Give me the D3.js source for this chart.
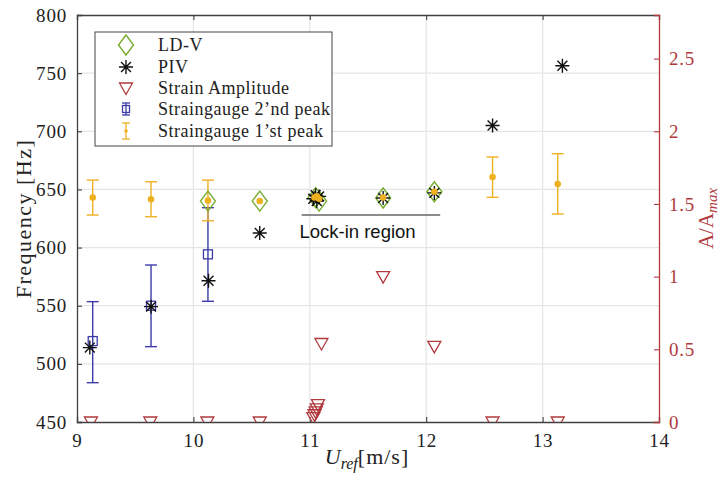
<!DOCTYPE html>
<html>
<head>
<meta charset="utf-8">
<script src="https://cdn.jsdelivr.net/npm/d3@7"></script>
<style>
  html, body { margin: 0; padding: 0; background: #fff; }
  svg { display: block; }
  .serif { font-family: "Liberation Serif", "DejaVu Serif", serif; }
</style>
</head>
<body>
<svg id="chart" width="723" height="478"></svg>
<script>
// Wind speed (m/s) and frequencies (Hz) of the measured response
const sg1U  = [9.135, 9.636, 10.125, 10.57, 11.04, 11.06, 11.08, 11.63, 12.07, 12.57, 13.13];
const sg1F  = [643, 641.5, 640.5, 640, 643, 644, 642, 643, 648, 660.7, 654.7];
const sg1Lo = [628, 626.5, 623, null, null, null, null, null, null, 643.2, 628.9];
const sg1Hi = [658, 656.6, 658, null, null, null, null, null, null, 677.9, 680.7];

const sg2U  = [9.135, 9.636, 10.125];
const sg2F  = [519.6, 550, 594.2];
const sg2Lo = [483.8, 514.8, 553.8];
const sg2Hi = [553.5, 585, 634.3];

const pivU = [9.11, 9.636, 10.13, 10.57, 11.03, 11.05, 11.06, 11.08, 11.63, 12.07, 12.57, 13.17];
const pivF = [514, 549.2, 571.5, 612.5, 642, 645, 640, 644, 642.6, 647, 705, 756.4];

const ldvU = [10.125, 10.57, 11.05, 11.08, 11.63, 12.07];
const ldvF = [640, 640, 643, 640, 642.6, 648];

const ampU = [9.12, 9.63, 10.12, 10.57, 11.03, 11.04, 11.05, 11.06, 11.07, 11.1, 11.63, 12.07, 12.57, 13.13];
const ampA = [0, 0, 0, 0, 0.03, 0.05, 0.07, 0.09, 0.12, 0.54, 1.0, 0.52, 0, 0];

const leftTicks  = [450, 500, 550, 600, 650, 700, 750, 800];
const rightTicks = [0, 0.5, 1, 1.5, 2, 2.5];
const xTicks     = [9, 10, 11, 12, 13, 14];

const lockIn = { u0: 10.93, u1: 12.12, f: 628, label: "Lock-in region", labelU: 11.41, labelF: 608 };

const C = {
  orange: "#EDB120", blue: "#3B3BAA", green: "#77AC30", red: "#B03A3E",
  axis: "#404040", grid: "#e5e5e5", black: "#111"
};

const svg = d3.select("#chart");
const L = 77, R = 659, T = 15, B = 422;

const x  = d3.scaleLinear().domain([9, 14]).range([L, R]);
const yL = d3.scaleLinear().domain([450, 800]).range([B, T]);
const yR = d3.scaleLinear().domain([0, 2.8]).range([B, T]);

svg.append("defs").append("clipPath").attr("id", "plotclip")
  .append("rect").attr("x", L).attr("y", T).attr("width", R - L).attr("height", B - T);

// grid
const grid = svg.append("g");
grid.selectAll("line.gx").data(xTicks.filter(t => t > 9 && t < 14)).join("line")
  .attr("x1", d => x(d)).attr("x2", d => x(d)).attr("y1", T).attr("y2", B)
  .attr("stroke", C.grid).attr("stroke-width", 1.2);
grid.selectAll("line.gy").data(leftTicks.filter(t => t > 450 && t < 800)).join("line")
  .attr("x1", L).attr("x2", R).attr("y1", d => yL(d)).attr("y2", d => yL(d))
  .attr("stroke", C.grid).attr("stroke-width", 1.2);

// axes (ticks pointing inward)
const axB = svg.append("g").attr("transform", `translate(0,${B})`)
  .call(d3.axisBottom(x).tickValues(xTicks).tickSize(-5).tickPadding(12).tickFormat(d3.format("d")));
const axT = svg.append("g").attr("transform", `translate(0,${T})`)
  .call(d3.axisTop(x).tickValues(xTicks).tickSize(-5).tickFormat(""));
const axL = svg.append("g").attr("transform", `translate(${L},0)`)
  .call(d3.axisLeft(yL).tickValues(leftTicks).tickSize(-5).tickPadding(10).tickFormat(d3.format("d")));
const axR = svg.append("g").attr("transform", `translate(${R},0)`)
  .call(d3.axisRight(yR).tickValues(rightTicks).tickSize(-5).tickPadding(10).tickFormat(d3.format("")));

[axB, axT, axL].forEach(a => {
  a.select(".domain").attr("stroke", C.axis).attr("stroke-width", 1.3);
  a.selectAll(".tick line").attr("stroke", C.axis).attr("stroke-width", 1.1);
  a.selectAll(".tick text").attr("class", "serif").attr("fill", "#222")
    .attr("font-size", 19).attr("letter-spacing", 0.8);
});
axR.select(".domain").attr("stroke", C.red).attr("stroke-width", 1.3);
axR.selectAll(".tick line").attr("stroke", C.red).attr("stroke-width", 1.1);
axR.selectAll(".tick text").attr("class", "serif").attr("fill", C.red)
  .attr("font-size", 19).attr("letter-spacing", 0.8);
axB.selectAll(".tick text").attr("dy", "0.71em");

// plot layer
const plot = svg.append("g").attr("clip-path", "url(#plotclip)");

function errorBars(g, us, lo, hi, color) {
  us.forEach((u, i) => {
    if (lo[i] == null) return;
    const cx = x(u), y0 = yL(lo[i]), y1 = yL(hi[i]);
    g.append("line").attr("x1", cx).attr("x2", cx).attr("y1", y0).attr("y2", y1);
    g.append("line").attr("x1", cx - 6).attr("x2", cx + 6).attr("y1", y0).attr("y2", y0);
    g.append("line").attr("x1", cx - 6).attr("x2", cx + 6).attr("y1", y1).attr("y2", y1);
  });
  g.attr("stroke", color).attr("stroke-width", 1.4).attr("fill", "none");
}

const diamond = (cx, cy) => `M${cx},${cy - 10}L${cx + 7.5},${cy}L${cx},${cy + 10}L${cx - 7.5},${cy}Z`;
const triDown = (cx, cy) => `M${cx - 6.5},${cy - 5}L${cx + 6.5},${cy - 5}L${cx},${cy + 6.5}Z`;
function asterisk(g, cx, cy, r) {
  const d = r * Math.SQRT1_2;
  g.append("path")
    .attr("d", `M${cx - r},${cy}L${cx + r},${cy}M${cx},${cy - r}L${cx},${cy + r}` +
               `M${cx - d},${cy - d}L${cx + d},${cy + d}M${cx - d},${cy + d}L${cx + d},${cy - d}`)
    .attr("stroke", C.black).attr("stroke-width", 1.4).attr("fill", "none");
}

// Straingauge 2nd peak
errorBars(plot.append("g"), sg2U, sg2Lo, sg2Hi, C.blue);
plot.append("g").selectAll("rect").data(sg2U).join("rect")
  .attr("x", (d) => x(d) - 4.5).attr("y", (d, i) => yL(sg2F[i]) - 4.5)
  .attr("width", 9).attr("height", 9)
  .attr("fill", "none").attr("stroke", C.blue).attr("stroke-width", 1.3);

// Straingauge 1st peak
errorBars(plot.append("g"), sg1U, sg1Lo, sg1Hi, C.orange);

// LD-V
plot.append("g").selectAll("path").data(ldvU).join("path")
  .attr("d", (d, i) => diamond(x(d), yL(ldvF[i])))
  .attr("fill", "none").attr("stroke", C.green).attr("stroke-width", 1.4);

// PIV
const pivG = plot.append("g");
pivU.forEach((u, i) => asterisk(pivG, x(u), yL(pivF[i]), 7));

// Straingauge 1st peak markers on top
plot.append("g").selectAll("circle").data(sg1U).join("circle")
  .attr("cx", d => x(d)).attr("cy", (d, i) => yL(sg1F[i])).attr("r", 3.3)
  .attr("fill", C.orange);

// Strain amplitude (right axis)
plot.append("g").selectAll("path").data(ampU).join("path")
  .attr("d", (d, i) => triDown(x(d), yR(ampA[i])))
  .attr("fill", "none").attr("stroke", C.red).attr("stroke-width", 1.3);

// Lock-in annotation
svg.append("line")
  .attr("x1", x(lockIn.u0)).attr("x2", x(lockIn.u1))
  .attr("y1", yL(lockIn.f)).attr("y2", yL(lockIn.f))
  .attr("stroke", "#666").attr("stroke-width", 1.6);
svg.append("text")
  .attr("x", x(lockIn.labelU)).attr("y", yL(lockIn.labelF))
  .attr("text-anchor", "middle")
  .attr("font-family", "'Liberation Sans', Arial, sans-serif").attr("font-size", 18.5)
  .attr("fill", "#111").text(lockIn.label);

// Axis titles
const xt = svg.append("text").attr("class", "serif").attr("x", 367).attr("y", 464)
  .attr("text-anchor", "middle").attr("font-size", 22).attr("fill", "#222");
xt.append("tspan").attr("font-style", "italic").text("U");
xt.append("tspan").attr("font-style", "italic").attr("font-size", 16).attr("dy", 5).text("ref");
xt.append("tspan").attr("dy", -5).attr("letter-spacing", 1).text("[m/s]");

svg.append("text").attr("class", "serif")
  .attr("transform", `translate(31,${(T + B) / 2}) rotate(-90)`)
  .attr("text-anchor", "middle").attr("font-size", 22).attr("letter-spacing", 1.5)
  .attr("fill", "#222")
  .text("Frequency [Hz]");

const yt = svg.append("text").attr("class", "serif")
  .attr("transform", `translate(713,${(T + B) / 2}) rotate(-90)`)
  .attr("text-anchor", "middle").attr("font-size", 21).attr("fill", C.red);
yt.append("tspan").text("A/A");
yt.append("tspan").attr("font-style", "italic").attr("font-size", 15).attr("dy", 4).text("max");

// Legend
const legend = svg.append("g");
legend.append("rect").attr("x", 95).attr("y", 32).attr("width", 237).attr("height", 114)
  .attr("fill", "#fff").attr("stroke", "#444").attr("stroke-width", 1);
const items = ["LD-V", "PIV", "Strain Amplitude", "Straingauge 2\u2019nd peak", "Straingauge 1\u2019st peak"];
const rowY = [45, 67, 88, 109, 131];
const mx = 126;
legend.append("path").attr("d", diamond(mx, rowY[0])).attr("fill", "none").attr("stroke", C.green).attr("stroke-width", 1.4);
asterisk(legend, mx, rowY[1], 7);
legend.append("path").attr("d", triDown(mx, rowY[2])).attr("fill", "none").attr("stroke", C.red).attr("stroke-width", 1.3);
{
  const g = legend.append("g").attr("stroke", C.blue).attr("stroke-width", 1.3).attr("fill", "none");
  const cy = rowY[3];
  g.append("line").attr("x1", mx).attr("x2", mx).attr("y1", cy - 6).attr("y2", cy + 6);
  g.append("line").attr("x1", mx - 4).attr("x2", mx + 4).attr("y1", cy - 6).attr("y2", cy - 6);
  g.append("line").attr("x1", mx - 4).attr("x2", mx + 4).attr("y1", cy + 6).attr("y2", cy + 6);
  g.append("rect").attr("x", mx - 3.5).attr("y", cy - 3.5).attr("width", 7).attr("height", 7);
}
{
  const g = legend.append("g").attr("stroke", C.orange).attr("stroke-width", 1.3).attr("fill", "none");
  const cy = rowY[4];
  g.append("line").attr("x1", mx).attr("x2", mx).attr("y1", cy - 8).attr("y2", cy + 8);
  g.append("line").attr("x1", mx - 4).attr("x2", mx + 4).attr("y1", cy - 8).attr("y2", cy - 8);
  g.append("line").attr("x1", mx - 4).attr("x2", mx + 4).attr("y1", cy + 8).attr("y2", cy + 8);
  legend.append("circle").attr("cx", mx).attr("cy", cy).attr("r", 1.8).attr("fill", C.orange);
}
legend.selectAll("text.item").data(items).join("text")
  .attr("class", "serif").attr("x", 158).attr("y", (d, i) => rowY[i])
  .attr("dy", "0.35em").attr("font-size", 18).attr("letter-spacing", 0.5)
  .attr("fill", "#222").text(d => d);
</script>
</body>
</html>
